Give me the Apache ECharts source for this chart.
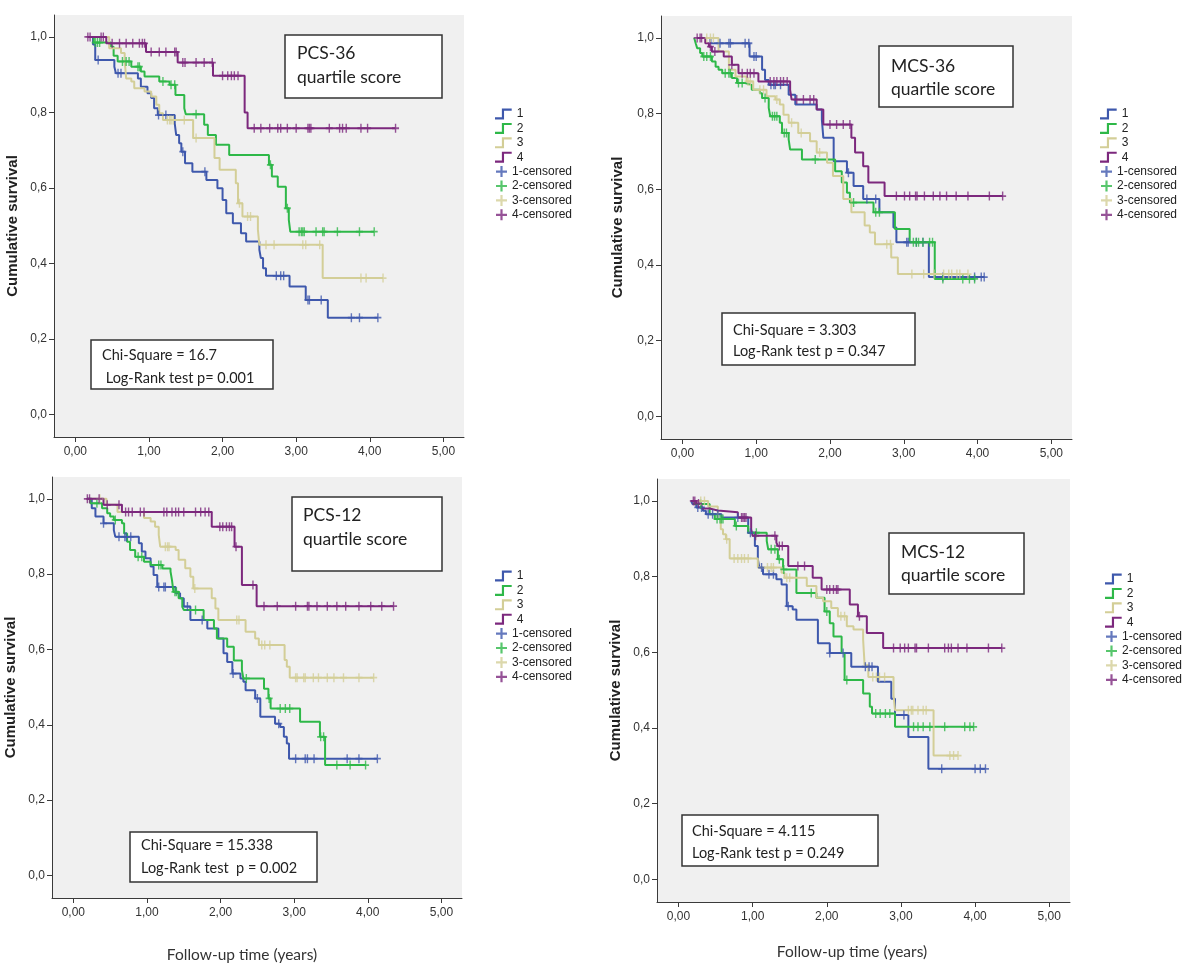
<!DOCTYPE html>
<html><head><meta charset="utf-8">
<script src="https://cdn.jsdelivr.net/npm/echarts@6/dist/echarts.min.js"></script>
<style>html,body{margin:0;padding:0;background:#fff}#c{width:1200px;height:977px}</style>
</head><body><div id="c"></div>
<script>
// ---------- DATA (time in years, cumulative survival) ----------
const groupNames = ['1','2','3','4'];
const censNames = ['1-censored','2-censored','3-censored','4-censored'];
const xTicks = [0,1,2,3,4,5];
const yTicks = [0,0.2,0.4,0.6,0.8,1.0];
const panelTitles = [['PCS-36','quartile score'],['MCS-36','quartile score'],['PCS-12','quartile score'],['MCS-12','quartile score']];
const panelStats = [['Chi-Square = 16.7',' Log-Rank test p= 0.001'],['Chi-Square = 3.303','Log-Rank test p = 0.347'],['Chi-Square = 15.338','Log-Rank test  p = 0.002'],['Chi-Square = 4.115','Log-Rank test p = 0.249']];
const xTitle = 'Follow-up time (years)';
const yTitle = 'Cumulative survival';

// PCS-36
const pcs36_g1_time = [0.18,0.24,0.27,0.53,0.55,0.85,0.89,0.98,1.03,1.07,1.12,1.35,1.37,1.41,1.44,1.49,1.59,1.78,1.93,2.00,2.05,2.14,2.25,2.32,2.50,2.52,2.55,2.59,2.91,3.13,3.43];
const pcs36_g1_surv = [1.0,0.98,0.939,0.921,0.904,0.89,0.868,0.851,0.838,0.811,0.793,0.771,0.740,0.718,0.696,0.665,0.643,0.621,0.599,0.568,0.533,0.506,0.48,0.458,0.436,0.414,0.387,0.367,0.339,0.303,0.256];
const pcs36_g1_cens = [0.31,0.58,0.62,1.13,1.23,1.46,1.76,2.73,2.79,2.83,3.16,3.18,3.34,3.75,3.86,4.11];
const pcs36_g2_time = [0.18,0.25,0.485,0.52,0.575,0.76,0.89,0.94,1.14,1.28,1.36,1.48,1.50,1.75,1.80,1.91,2.09,2.63,2.67,2.75,2.86,2.90,2.92];
const pcs36_g2_surv = [1.0,0.985,0.974,0.95,0.935,0.921,0.908,0.895,0.882,0.873,0.846,0.811,0.795,0.767,0.740,0.714,0.687,0.661,0.630,0.603,0.546,0.515,0.484];
const pcs36_g2_cens = [0.27,0.30,0.33,0.64,0.69,0.73,0.85,0.87,1.19,1.30,1.35,1.64,2.65,2.88,3.04,3.07,3.09,3.11,3.27,3.36,3.38,3.56,3.86,4.06];
const pcs36_g3_time = [0.18,0.46,0.62,0.67,0.69,0.76,0.80,0.94,1.03,1.10,1.14,1.19,1.60,1.89,1.96,2.18,2.21,2.27,2.48,2.50,3.36];
const pcs36_g3_surv = [1.0,0.97,0.957,0.939,0.89,0.882,0.864,0.855,0.842,0.82,0.798,0.78,0.732,0.679,0.648,0.612,0.559,0.524,0.489,0.449,0.361];
const pcs36_g3_cens = [1.25,1.28,1.30,1.33,1.48,1.64,2.23,2.34,2.38,2.59,2.70,3.09,3.13,3.32,3.88,3.95,4.18];
const pcs36_g4_time = [0.17,0.42,0.96,1.39,1.87,2.30,2.34];
const pcs36_g4_surv = [1.0,0.983,0.96,0.932,0.897,0.80,0.758];
const pcs36_g4_cens = [0.17,0.20,0.35,0.38,0.50,0.60,0.69,0.78,0.87,0.91,0.94,1.03,1.14,1.23,1.35,1.37,1.46,1.49,1.64,1.75,1.86,2.00,2.07,2.12,2.16,2.21,2.43,2.52,2.64,2.75,2.79,2.88,3.00,3.16,3.18,3.20,3.45,3.59,3.63,3.68,3.88,3.97,4.35];

// MCS-36
const mcs36_g1_time = [0.2,0.38,0.91,1.08,1.12,1.17,1.44,1.53,1.82,1.89,1.91,2.05,2.23,2.32,2.45,2.67,2.86,2.90,3.34];
const mcs36_g1_surv = [1.0,0.986,0.951,0.916,0.889,0.876,0.85,0.824,0.811,0.784,0.736,0.674,0.644,0.609,0.574,0.539,0.499,0.46,0.368];
const mcs36_g1_cens = [0.51,0.63,0.65,0.85,0.90,0.97,1.00,1.20,1.24,1.26,1.33,2.25,2.50,2.62,3.04,3.06,3.17,3.26,3.53,3.96,4.05,4.09];
const mcs36_g2_time = [0.16,0.18,0.2,0.24,0.27,0.40,0.45,0.49,0.54,0.67,0.74,0.85,0.94,1.05,1.08,1.17,1.19,1.32,1.35,1.44,1.46,1.62,2.07,2.16,2.23,2.27,2.59,2.88,3.08,3.42];
const mcs36_g2_surv = [1.0,0.986,0.973,0.96,0.951,0.938,0.924,0.916,0.907,0.894,0.881,0.876,0.863,0.854,0.841,0.815,0.793,0.776,0.749,0.732,0.705,0.679,0.648,0.618,0.591,0.565,0.539,0.495,0.46,0.363];
const mcs36_g2_cens = [0.29,0.33,0.38,0.58,0.63,0.65,0.76,0.81,1.12,1.22,1.25,1.28,1.38,1.41,1.80,2.32,2.62,2.67,3.13,3.17,3.20,3.26,3.35,3.39,3.53,3.80,3.89,3.96];
const mcs36_g3_time = [0.2,0.49,0.63,0.72,0.87,0.96,1.14,1.26,1.32,1.37,1.44,1.57,1.73,1.82,1.96,2.04,2.18,2.29,2.47,2.54,2.61,2.83,2.92];
const mcs36_g3_surv = [1.0,0.964,0.916,0.898,0.885,0.863,0.846,0.837,0.824,0.797,0.776,0.749,0.727,0.697,0.670,0.635,0.574,0.539,0.504,0.486,0.455,0.42,0.376];
const mcs36_g3_cens = [0.33,0.38,0.42,0.89,0.92,1.05,1.10,1.28,1.48,1.61,1.86,2.77,2.82,3.11,3.27,3.41,3.54,3.61,3.65,3.72,3.76,3.87];
const mcs36_g4_time = [0.2,0.31,0.36,0.40,0.56,0.67,0.76,1.03,1.46,1.48,1.82,1.91,2.29,2.34,2.45,2.52,2.74];
const mcs36_g4_surv = [1.0,0.986,0.977,0.964,0.951,0.929,0.907,0.885,0.863,0.837,0.811,0.771,0.736,0.697,0.661,0.618,0.582];
const mcs36_g4_cens = [0.2,0.24,0.26,0.38,0.44,0.67,0.81,0.88,0.92,0.97,1.19,1.24,1.28,1.33,1.37,1.42,1.55,1.64,1.73,1.78,2.0,2.09,2.18,2.27,2.90,3.01,3.08,3.16,3.18,3.28,3.40,3.49,3.58,3.71,3.87,4.16,4.34];

// PCS-12
const pcs12_g1_time = [0.19,0.25,0.30,0.41,0.55,0.57,0.89,0.93,0.98,1.05,1.09,1.14,1.39,1.45,1.50,1.59,1.82,1.97,2.04,2.09,2.16,2.27,2.31,2.34,2.47,2.54,2.74,2.81,2.86,2.90,2.93];
const pcs12_g1_surv = [1.0,0.975,0.953,0.935,0.917,0.899,0.882,0.86,0.842,0.82,0.798,0.766,0.749,0.736,0.714,0.678,0.656,0.629,0.59,0.567,0.536,0.523,0.514,0.492,0.470,0.421,0.403,0.394,0.368,0.350,0.310];
const pcs12_g1_cens = [0.41,0.62,0.70,0.72,0.78,1.16,1.23,1.25,1.55,1.75,2.17,2.50,2.79,3.02,3.15,3.18,3.27,3.72,3.88,4.13];
const pcs12_g2_time = [0.19,0.23,0.39,0.46,0.50,0.55,0.66,0.69,0.73,0.77,0.84,0.96,1.05,1.21,1.32,1.34,1.36,1.43,1.48,1.50,1.77,1.91,1.95,2.09,2.18,2.29,2.31,2.59,2.65,2.68,3.08,3.35,3.42];
const pcs12_g2_surv = [1.0,0.988,0.975,0.962,0.953,0.944,0.935,0.908,0.886,0.864,0.846,0.833,0.824,0.815,0.807,0.784,0.753,0.736,0.713,0.705,0.678,0.656,0.629,0.607,0.571,0.545,0.523,0.496,0.470,0.443,0.408,0.368,0.293];
const pcs12_g2_cens = [0.32,0.57,0.88,0.93,1.16,1.19,1.38,1.40,1.66,2.35,2.66,2.81,2.88,2.94,3.36,3.40,3.58,3.76,3.97];
const pcs12_g3_time = [0.19,0.45,0.60,0.96,1.05,1.11,1.16,1.18,1.39,1.43,1.52,1.59,1.63,1.88,1.93,1.97,2.34,2.47,2.52,2.87,2.90,2.94];
const pcs12_g3_surv = [1.0,0.984,0.965,0.949,0.940,0.926,0.904,0.873,0.864,0.838,0.816,0.793,0.762,0.736,0.709,0.678,0.647,0.629,0.612,0.572,0.554,0.525];
const pcs12_g3_cens = [0.36,1.25,1.28,1.30,1.65,2.22,2.25,2.56,2.60,2.67,3.02,3.04,3.13,3.15,3.26,3.33,3.45,3.54,3.67,3.88,4.08];
const pcs12_g4_time = [0.19,0.41,0.66,1.88,2.19,2.29,2.49];
const pcs12_g4_surv = [1.0,0.984,0.965,0.926,0.873,0.771,0.715];
const pcs12_g4_cens = [0.19,0.22,0.35,0.46,0.62,0.71,0.75,0.80,0.91,0.96,1.23,1.27,1.34,1.39,1.43,1.50,1.66,1.73,1.79,1.84,1.99,2.03,2.08,2.12,2.15,2.21,2.44,2.59,2.77,3.02,3.18,3.20,3.31,3.45,3.58,3.70,3.88,4.04,4.19,4.35];

// MCS-12
const mcs12_g1_time = [0.17,0.19,0.24,0.33,0.37,0.58,0.94,1.03,1.07,1.09,1.14,1.32,1.39,1.46,1.54,1.59,1.88,2.04,2.33,2.69,2.87,2.92,3.10,3.37];
const mcs12_g1_surv = [1.0,0.992,0.983,0.974,0.965,0.956,0.916,0.881,0.846,0.824,0.806,0.793,0.779,0.722,0.713,0.686,0.624,0.598,0.562,0.522,0.477,0.434,0.376,0.292];
const mcs12_g1_cens = [0.26,0.31,0.40,0.46,0.53,0.80,0.97,1.12,1.22,1.28,1.48,2.04,2.22,2.52,2.57,2.61,3.04,3.55,4.00,4.07,4.14];
const mcs12_g2_time = [0.17,0.22,0.42,0.49,0.76,0.94,1.19,1.21,1.34,1.41,1.59,1.86,1.97,2.04,2.09,2.20,2.24,2.49,2.58,2.61,2.92];
const mcs12_g2_surv = [1.0,0.992,0.965,0.952,0.934,0.916,0.894,0.872,0.846,0.819,0.757,0.744,0.708,0.677,0.642,0.598,0.527,0.491,0.456,0.438,0.403];
const mcs12_g2_cens = [0.30,0.52,0.56,0.58,0.60,0.78,1.05,1.25,1.30,1.36,1.42,1.79,2.00,2.27,2.66,2.72,2.79,2.85,3.17,3.23,3.30,3.39,3.59,3.86,3.93,3.98];
const mcs12_g3_time = [0.19,0.40,0.53,0.57,0.60,0.64,0.69,1.07,1.39,1.43,1.73,1.86,1.95,2.06,2.15,2.27,2.36,2.49,2.51,2.56,2.90,2.92,3.44];
const mcs12_g3_surv = [1.0,0.985,0.952,0.925,0.912,0.899,0.848,0.824,0.81,0.797,0.775,0.744,0.735,0.717,0.695,0.669,0.66,0.633,0.566,0.535,0.487,0.447,0.327];
const mcs12_g3_cens = [0.30,0.35,0.65,0.75,0.80,0.85,0.89,0.94,1.20,1.25,1.28,1.46,1.50,2.19,2.24,2.62,2.67,2.71,2.78,3.10,3.14,3.16,3.23,3.30,3.34,3.66,3.71,3.77];
const mcs12_g4_time = [0.17,0.24,0.31,0.42,0.53,0.80,0.98,1.00,1.32,1.34,1.48,1.81,1.93,2.31,2.42,2.54,2.76];
const mcs12_g4_surv = [1.0,0.993,0.98,0.975,0.97,0.956,0.925,0.908,0.89,0.881,0.828,0.797,0.766,0.726,0.695,0.651,0.611];
const mcs12_g4_cens = [0.20,0.22,0.27,0.85,0.87,0.89,0.91,1.04,1.30,1.36,1.40,1.61,1.70,2.00,2.04,2.09,2.13,2.15,2.44,2.90,2.99,3.05,3.10,3.19,3.21,3.37,3.59,3.64,3.68,3.77,3.89,4.18,4.36];

// ---------- LAYOUT / STYLE ----------
const COLORS = ['#3E58AC','#2EB848','#D3CE97','#7C287D'];
const GRIDS = [
  {left:54, top:15, width:410, height:422},
  {left:661, top:16, width:411, height:423},
  {left:52, top:477, width:410, height:421},
  {left:657, top:479, width:413, height:423}
];
const LEGENDS = [{left:495, top:108},{left:1100, top:108},{left:495, top:570},{left:1105, top:573}];
const LEG_STEP = 14.4;
const NAMEGAP = [34,36,34,34];
const BOXES = [
  {x:285,y:35,w:157,h:63, tx:297, ty:[53,77]},
  {x:879,y:46,w:134,h:61, tx:891, ty:[66,89]},
  {x:292,y:497,w:150,h:74, tx:303, ty:[515,539]},
  {x:889,y:533,w:135,h:61, tx:901, ty:[552,575]}
];
const STATBOXES = [
  {x:91,y:340,w:182,h:49, tx:102, ty:[355,378]},
  {x:722,y:313,w:193,h:52, tx:733, ty:[330,351]},
  {x:130,y:832,w:187,h:50, tx:141, ty:[845,868]},
  {x:682,y:815,w:196,h:51, tx:692, ty:[831,853]}
];
const XTITLES = [{x:242,y:955},{x:852,y:952}];

const PANELS = [
  [[pcs36_g1_time,pcs36_g1_surv,pcs36_g1_cens],[pcs36_g2_time,pcs36_g2_surv,pcs36_g2_cens],[pcs36_g3_time,pcs36_g3_surv,pcs36_g3_cens],[pcs36_g4_time,pcs36_g4_surv,pcs36_g4_cens]],
  [[mcs36_g1_time,mcs36_g1_surv,mcs36_g1_cens],[mcs36_g2_time,mcs36_g2_surv,mcs36_g2_cens],[mcs36_g3_time,mcs36_g3_surv,mcs36_g3_cens],[mcs36_g4_time,mcs36_g4_surv,mcs36_g4_cens]],
  [[pcs12_g1_time,pcs12_g1_surv,pcs12_g1_cens],[pcs12_g2_time,pcs12_g2_surv,pcs12_g2_cens],[pcs12_g3_time,pcs12_g3_surv,pcs12_g3_cens],[pcs12_g4_time,pcs12_g4_surv,pcs12_g4_cens]],
  [[mcs12_g1_time,mcs12_g1_surv,mcs12_g1_cens],[mcs12_g2_time,mcs12_g2_surv,mcs12_g2_cens],[mcs12_g3_time,mcs12_g3_surv,mcs12_g3_cens],[mcs12_g4_time,mcs12_g4_surv,mcs12_g4_cens]]
];

const PLUS = 'path://M4,0H6V10H4Z M0,4H10V6H0Z';
const STEP_ICON = 'path://M0,9H7V0H17V2.2H9.2V11.2H0Z';
const AX = '#3a3a3a';
const LBL = {fontFamily:'Liberation Sans, Arial, sans-serif', fontSize:12, color:'#333'};
const BOXFONT = 'Lato, Calibri, sans-serif';

function survAt(time, surv, c){
  let s = surv[0];
  for (let i=0;i<time.length;i++){ if (time[i] <= c + 1e-9) s = surv[i]; }
  return s;
}

const grid = [], xAxis = [], yAxis = [], series = [], legend = [], graphic = [];
PANELS.forEach((groups, p) => {
  grid.push(Object.assign({show:true, backgroundColor:'#F0F0F0', borderWidth:0, containLabel:false}, GRIDS[p]));
  xAxis.push({type:'value', gridIndex:p, min:-0.29, max:5.28,
    axisLine:{show:true, onZero:false, lineStyle:{color:AX, width:1}},
    axisTick:{show:true, length:5, customValues:xTicks, lineStyle:{color:AX}},
    axisLabel:Object.assign({margin:9, customValues:xTicks, formatter:v=>v.toFixed(2).replace('.',',')}, LBL),
    splitLine:{show:false}});
  yAxis.push({type:'value', gridIndex:p, min:-0.06, max:1.058,
    name:yTitle, nameLocation:'middle', nameGap:NAMEGAP[p],
    nameTextStyle:{fontFamily:'Liberation Sans, Arial, sans-serif', fontWeight:'bold', fontSize:15, color:'#222'},
    axisLine:{show:true, onZero:false, lineStyle:{color:AX, width:1}},
    axisTick:{show:true, length:5, customValues:yTicks, lineStyle:{color:AX}},
    axisLabel:Object.assign({margin:7, customValues:yTicks, formatter:v=>v.toFixed(1).replace('.',',')}, LBL),
    splitLine:{show:false}});
  groups.forEach((g, k) => {
    const [time, surv, cens] = g;
    const data = time.map((t,i)=>[t, surv[i]]);
    const lastC = Math.max.apply(null, cens);
    if (lastC > time[time.length-1]) data.push([lastC, surv[surv.length-1]]);
    series.push({type:'line', name:groupNames[k], xAxisIndex:p, yAxisIndex:p, step:'end',
      symbol:'none', showSymbol:false, data, silent:true, z:2+k,
      lineStyle:{color:COLORS[k], width:2}, itemStyle:{color:COLORS[k]}});
  });
  groups.forEach((g, k) => {
    const [time, surv, cens] = g;
    series.push({type:'scatter', name:censNames[k], xAxisIndex:p, yAxisIndex:p,
      symbol:PLUS, symbolSize:[7,9], silent:true, z:6+k,
      itemStyle:{color:COLORS[k]},
      data:cens.map(c=>[c, survAt(time, surv, c)])});
  });
  legend.push({orient:'vertical', left:LEGENDS[p].left, top:LEGENDS[p].top, padding:0,
    itemWidth:17, itemHeight:11, itemGap:LEG_STEP-12, selectedMode:false,
    textStyle:Object.assign({}, LBL, {color:'#222', lineHeight:12}),
    data:groupNames.map(n=>({name:n, icon:STEP_ICON}))});
  legend.push({orient:'vertical', left:LEGENDS[p].left + 1, top:LEGENDS[p].top + 4*LEG_STEP, padding:0,
    itemWidth:11, itemHeight:11, itemGap:LEG_STEP-12, selectedMode:false,
    textStyle:Object.assign({}, LBL, {color:'#222', lineHeight:12}),
    data:censNames.map(n=>({name:n, icon:PLUS}))});

  const b = BOXES[p];
  graphic.push({type:'rect', shape:{x:b.x, y:b.y, width:b.w, height:b.h}, style:{fill:'#fff', stroke:'#333', lineWidth:1.5}, z:50});
  panelTitles[p].forEach((t,i)=>graphic.push({type:'text', x:b.tx, y:b.ty[i], z:51,
    style:{text:t, fill:'#222', font:'17.5px '+BOXFONT, textVerticalAlign:'middle'}}));
  const s = STATBOXES[p];
  graphic.push({type:'rect', shape:{x:s.x, y:s.y, width:s.w, height:s.h}, style:{fill:'#fff', stroke:'#333', lineWidth:1.5}, z:50});
  panelStats[p].forEach((t,i)=>graphic.push({type:'text', x:s.tx, y:s.ty[i], z:51,
    style:{text:t, fill:'#222', font:'14.5px '+BOXFONT, textVerticalAlign:'middle'}}));
});
XTITLES.forEach(t=>graphic.push({type:'text', x:t.x, y:t.y, z:51,
  style:{text:xTitle, fill:'#333', font:'15.5px '+BOXFONT, textAlign:'center', textVerticalAlign:'middle'}}));

const chart = echarts.init(document.getElementById('c'), null, {renderer:'canvas'});
chart.setOption({animation:false, backgroundColor:'#fff', grid, xAxis, yAxis, series, legend, graphic});
</script>
</body></html>
